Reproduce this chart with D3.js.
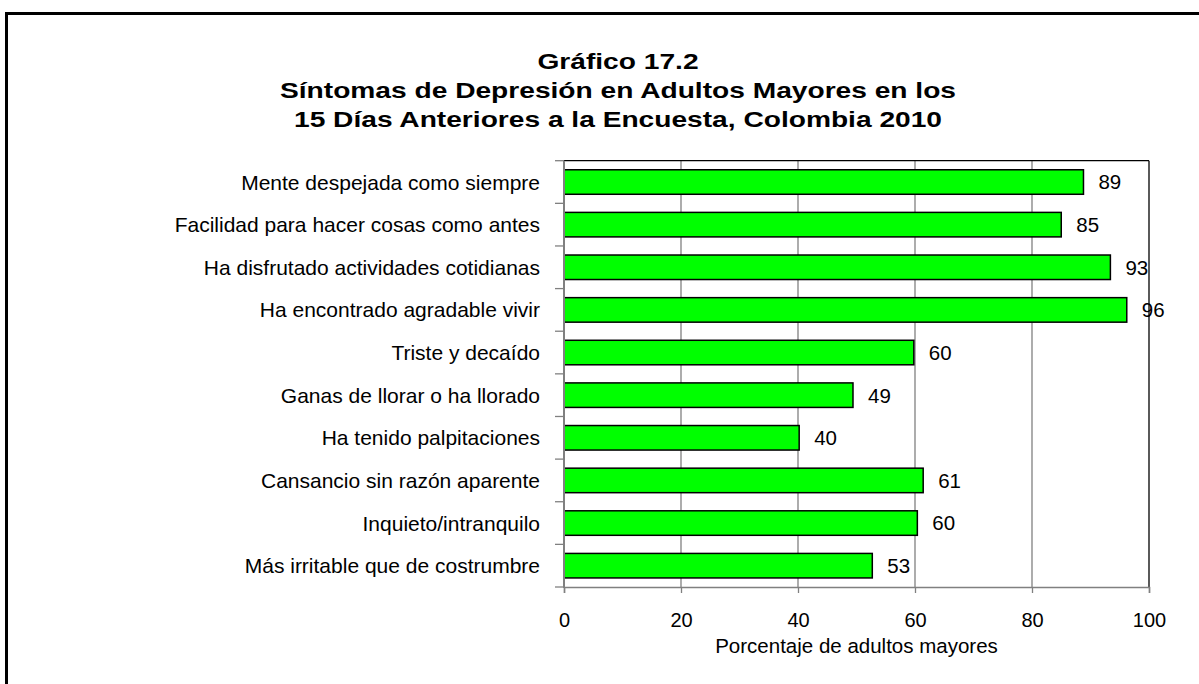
<!DOCTYPE html>
<html>
<head>
<meta charset="utf-8">
<script src="https://cdn.jsdelivr.net/npm/d3@7/dist/d3.min.js"></script>
<style>
  html, body { margin: 0; padding: 0; background: #fff; }
  svg { display: block; }
  text { font-family: "Liberation Sans", Arial, sans-serif; fill: #000; }
</style>
</head>
<body>
<svg id="chart" width="1199" height="684"></svg>
<script>
const titleLines = ["Gráfico 17.2", "Síntomas de Depresión en Adultos Mayores en los", "15 Días Anteriores a la Encuesta, Colombia 2010"];
const categories = [
  "Mente despejada como siempre",
  "Facilidad para hacer cosas como antes",
  "Ha disfrutado actividades cotidianas",
  "Ha encontrado agradable vivir",
  "Triste y decaído",
  "Ganas de llorar o ha llorado",
  "Ha tenido palpitaciones",
  "Cansancio sin razón aparente",
  "Inquieto/intranquilo",
  "Más irritable que de costrumbre"
];
const values = [88.8, 85.0, 93.4, 96.2, 59.8, 49.4, 40.2, 61.4, 60.4, 52.7];
const xTicks = [0, 20, 40, 60, 80, 100];
const xAxisTitle = "Porcentaje de adultos mayores";

const svg = d3.select("#chart");
const W = 1199, H = 684;
const plot = { left: 564, right: 1149, top: 160.7, bottom: 587 };

// outer frame
svg.append("rect").attr("x", 6.5).attr("y", 13.5).attr("width", 1400).attr("height", 900)
  .attr("fill", "none").attr("stroke", "#000").attr("stroke-width", 3);

const x = d3.scaleLinear().domain([0, 100]).range([plot.left, plot.right]);
const y = d3.scaleBand().domain(categories).range([plot.top, plot.bottom]).paddingInner(0.425).paddingOuter(0.2125);
const yb = d3.scaleBand().domain(categories).range([plot.top, plot.bottom]).padding(0);

// gridlines
svg.append("g").selectAll("line").data(xTicks.filter(d => d > 0 && d < 100)).join("line")
  .attr("x1", d => x(d)).attr("x2", d => x(d)).attr("y1", plot.top).attr("y2", plot.bottom)
  .attr("stroke", "#808080").attr("stroke-width", 1.3);

// plot border top & right (black)
svg.append("line").attr("x1", plot.left).attr("x2", plot.right).attr("y1", plot.top).attr("y2", plot.top)
  .attr("stroke", "#000").attr("stroke-width", 1.3);
svg.append("line").attr("x1", plot.right).attr("x2", plot.right).attr("y1", plot.top).attr("y2", plot.bottom)
  .attr("stroke", "#000").attr("stroke-width", 1.3);

// x axis
const xAxis = d3.axisBottom(x).tickValues(xTicks).tickSize(6).tickPadding(20).tickFormat(d3.format("d"));
const gx = svg.append("g").attr("transform", `translate(0,${plot.bottom})`).call(xAxis);
gx.select(".domain").attr("stroke", "#808080").attr("stroke-width", 1.5);
gx.selectAll(".tick line").attr("stroke", "#808080").attr("stroke-width", 1.3);
gx.selectAll(".tick text").attr("font-size", "20px").attr("font-family", "Liberation Sans, Arial, sans-serif").attr("fill", "#000");

// y axis: ticks at band boundaries
const boundaries = categories.map(c => yb(c)).concat([plot.bottom]);
svg.append("g").selectAll("line").data(boundaries).join("line")
  .attr("x1", plot.left - 9).attr("x2", plot.left).attr("y1", d => d).attr("y2", d => d)
  .attr("stroke", "#808080").attr("stroke-width", 1.3);

// bars
svg.append("g").selectAll("rect").data(categories).join("rect")
  .attr("x", x(0)).attr("y", c => y(c)).attr("width", (c, i) => x(values[i]) - x(0)).attr("height", y.bandwidth())
  .attr("fill", "#00ff00").attr("stroke", "#000").attr("stroke-width", 1.5);

// left axis line
svg.append("line").attr("x1", plot.left).attr("x2", plot.left).attr("y1", plot.top).attr("y2", plot.bottom + 1)
  .attr("stroke", "#808080").attr("stroke-width", 2);

// category labels
svg.append("g").selectAll("text").data(categories).join("text")
  .attr("x", 540).attr("y", c => yb(c) + yb.bandwidth() / 2).attr("dy", "0.36em")
  .attr("text-anchor", "end").attr("font-size", "21px").text(c => c);

// value labels
svg.append("g").selectAll("text").data(categories).join("text")
  .attr("x", (c, i) => x(values[i]) + 15).attr("y", c => yb(c) + yb.bandwidth() / 2).attr("dy", "0.36em")
  .attr("text-anchor", "start").attr("font-size", "20.5px").text((c, i) => Math.round(values[i]));

// axis title
svg.append("text").attr("x", (plot.left + plot.right) / 2).attr("y", 653).attr("text-anchor", "middle")
  .attr("font-size", "20.5px").text(xAxisTitle);

// title
const titleBase = [69, 98, 127];
svg.append("g").selectAll("text").data(titleLines).join("text")
  .attr("transform", (d, i) => `translate(618,${titleBase[i]}) scale(1.28,1)`)
  .attr("text-anchor", "middle").attr("font-weight", "bold").attr("font-size", "22px").text(d => d);
</script>
</body>
</html>
